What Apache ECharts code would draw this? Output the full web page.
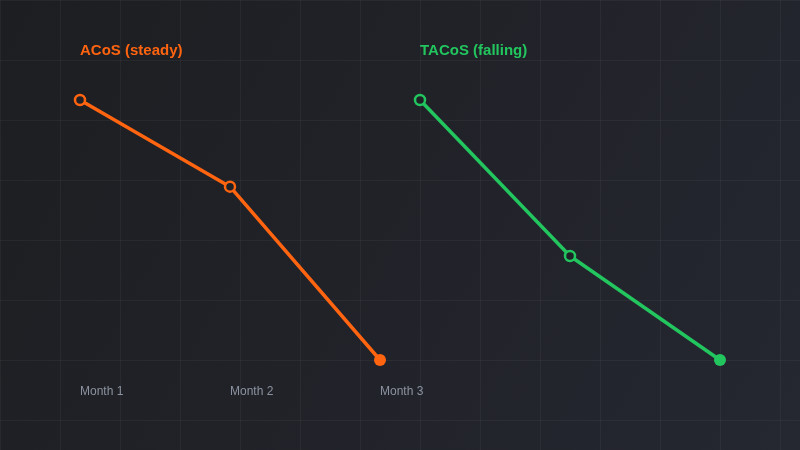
<!DOCTYPE html>
<html>
<head>
<meta charset="utf-8">
<script src="https://cdn.jsdelivr.net/npm/echarts@6/dist/echarts.min.js"></script>
<style>html,body{margin:0;padding:0;background:#1f2024;}#c{width:800px;height:450px;}</style>
</head>
<body>
<div id="c"></div>
<script>
var categories = ['Month 1', 'Month 2', 'Month 3'];
var acosValues = [35, 30, 20];
var tacosValues = [15, 9, 5];
var acosTitle = 'ACoS (steady)';
var tacosTitle = 'TACoS (falling)';

var ORANGE = '#ff6410';
var GREEN = '#22c55e';
var HOLE = '#1f2127';

function pts(vals, color) {
  return vals.map(function (v, i) {
    var last = i === vals.length - 1;
    return {
      value: v,
      symbolSize: last ? 12 : 10,
      itemStyle: last ? { color: color, borderWidth: 0 } : { color: HOLE, borderColor: color, borderWidth: 2.5 }
    };
  });
}

var chart = echarts.init(document.getElementById('c'), null, { renderer: 'canvas' });
chart.setOption({
  animation: false,
  backgroundColor: {
    type: 'linear', x: 0, y: 0, x2: 1, y2: 1,
    colorStops: [{ offset: 0, color: '#1d1e21' }, { offset: 1, color: '#252731' }]
  },
  title: [
    { text: acosTitle, left: 80, top: 43, padding: 0, textStyle: { color: ORANGE, fontSize: 15, fontWeight: 'bold', fontFamily: 'Liberation Sans, Arial, sans-serif' } },
    { text: tacosTitle, left: 420, top: 43, padding: 0, textStyle: { color: GREEN, fontSize: 15, fontWeight: 'bold', fontFamily: 'Liberation Sans, Arial, sans-serif' } }
  ],
  grid: [
    { left: 0, top: 0, width: 800, height: 450 },
    { left: 80, top: 100, width: 300, height: 260 },
    { left: 420, top: 100, width: 300, height: 260 }
  ],
  xAxis: [
    { type: 'value', gridIndex: 0, min: 0, max: 800, interval: 60, axisLine: { show: false }, axisTick: { show: false }, axisLabel: { show: false }, splitLine: { show: true, lineStyle: { color: 'rgba(255,255,255,0.045)', width: 1 } } },
    { type: 'category', gridIndex: 1, data: categories, boundaryGap: false, axisLine: { show: false }, axisTick: { show: false }, splitLine: { show: false },
      axisLabel: { show: true, align: 'left', margin: 26, color: '#8c93a0', fontSize: 12, fontFamily: 'Liberation Sans, Arial, sans-serif' } },
    { type: 'category', gridIndex: 2, data: categories, boundaryGap: false, axisLine: { show: false }, axisTick: { show: false }, axisLabel: { show: false }, splitLine: { show: false } }
  ],
  yAxis: [
    { type: 'value', gridIndex: 0, inverse: true, min: 0, max: 450, interval: 60, axisLine: { show: false }, axisTick: { show: false }, axisLabel: { show: false }, splitLine: { show: true, lineStyle: { color: 'rgba(255,255,255,0.045)', width: 1 } } },
    { type: 'value', gridIndex: 1, min: 20, max: 35, axisLine: { show: false }, axisTick: { show: false }, axisLabel: { show: false }, splitLine: { show: false } },
    { type: 'value', gridIndex: 2, min: 5, max: 15, axisLine: { show: false }, axisTick: { show: false }, axisLabel: { show: false }, splitLine: { show: false } }
  ],
  series: [
    { name: acosTitle, type: 'line', xAxisIndex: 1, yAxisIndex: 1, data: pts(acosValues, ORANGE), symbol: 'circle', lineStyle: { color: ORANGE, width: 3.5 }, itemStyle: { color: ORANGE } },
    { name: tacosTitle, type: 'line', xAxisIndex: 2, yAxisIndex: 2, data: pts(tacosValues, GREEN), symbol: 'circle', lineStyle: { color: GREEN, width: 3.5 }, itemStyle: { color: GREEN } }
  ]
});
</script>
</body>
</html>
